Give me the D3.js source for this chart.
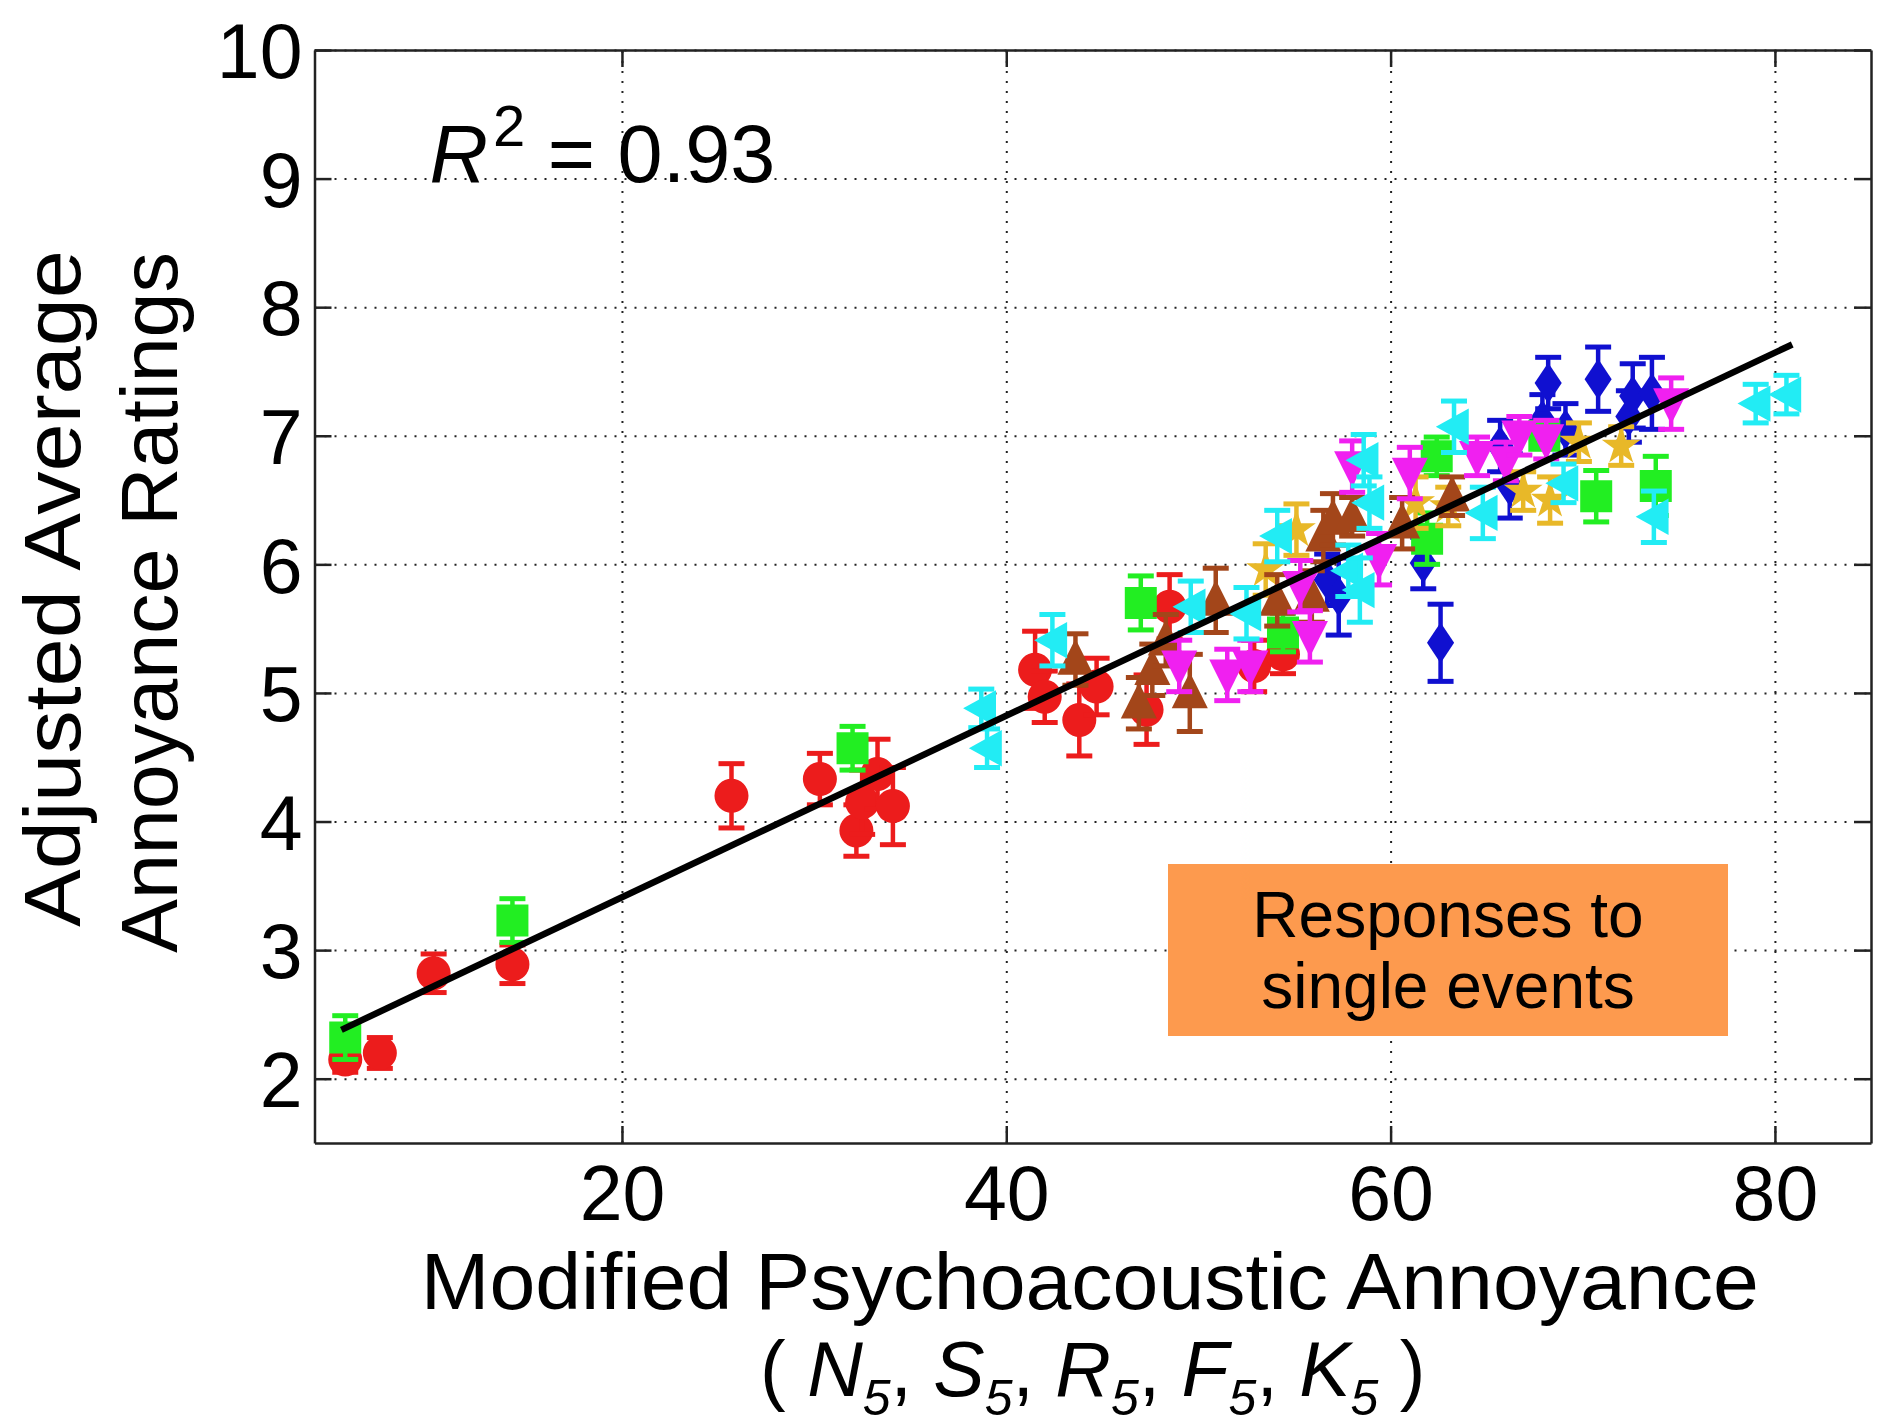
<!DOCTYPE html>
<html>
<head>
<meta charset="utf-8">
<script src="https://cdn.jsdelivr.net/npm/d3@7"></script>
<style>
	body { margin: 0; background: #fff; }
	svg text { font-family: "Liberation Sans", Arial, sans-serif; fill: #000; }
</style>
</head>
<body>
<script>
(function(){
	// Axis ranges and ticks
	let xDomain = [4, 85],
		yDomain = [1.5, 10],
		xTicks = [20, 40, 60, 80],
		yTicks = [2, 3, 4, 5, 6, 7, 8, 9, 10];

	// Points as [x, y, error half-length], one array per marker group
	let redCircles = [
		[5.6, 2.15, 0.1], [7.4, 2.2, 0.12], [10.2, 2.82, 0.15], [14.3, 2.89, 0.15],
		[25.7, 4.2, 0.25], [30.3, 4.33, 0.2], [32.2, 3.93, 0.2], [32.5, 4.15, 0.25],
		[33.3, 4.37, 0.27], [34.1, 4.12, 0.3], [41.5, 5.18, 0.3], [42.0, 4.97, 0.2],
		[43.8, 4.79, 0.28], [44.7, 5.05, 0.22], [47.3, 4.87, 0.27], [48.5, 5.67, 0.25],
		[52.9, 5.21, 0.2], [54.4, 5.3, 0.15]
	];
	let blueDiamonds = [
		[56.7, 5.88, 0.2], [57.3, 5.75, 0.3], [61.7, 6.01, 0.2], [62.6, 5.39, 0.3],
		[65.7, 6.92, 0.2], [66.2, 6.61, 0.25], [67.9, 7.12, 0.2], [68.2, 7.41, 0.2],
		[69.1, 7.05, 0.2], [70.8, 7.44, 0.25], [72.4, 7.15, 0.2], [72.6, 7.31, 0.25],
		[73.6, 7.33, 0.28]
	];
	let greenSquares = [
		[5.6, 2.32, 0.17], [14.3, 3.23, 0.17], [32.0, 4.57, 0.17], [47.0, 5.7, 0.21],
		[54.4, 5.47, 0.15], [61.9, 6.2, 0.2], [62.4, 6.84, 0.15], [68.0, 7.0, 0.1],
		[70.7, 6.53, 0.2], [73.8, 6.61, 0.23]
	];
	let goldStars = [
		[53.5, 5.96, 0.2], [55.1, 6.27, 0.2], [61.3, 6.48, 0.2], [63.0, 6.45, 0.15],
		[66.9, 6.57, 0.15], [68.3, 6.5, 0.18], [69.8, 6.95, 0.15], [72.0, 6.92, 0.15]
	];
	let brownTriangles = [
		[43.6, 5.26, 0.2], [46.9, 4.92, 0.2], [47.6, 5.18, 0.2], [48.3, 5.41, 0.2],
		[49.55, 5.0, 0.3], [50.9, 5.72, 0.25], [54.1, 5.72, 0.2], [55.9, 5.75, 0.2],
		[56.5, 6.22, 0.2], [57.0, 6.35, 0.2], [58.0, 6.37, 0.15], [60.6, 6.32, 0.2],
		[63.2, 6.53, 0.15]
	];
	let magentaTriangles = [
		[49.0, 5.21, 0.2], [51.5, 5.14, 0.2], [52.7, 5.21, 0.2], [55.3, 5.83, 0.2],
		[55.8, 5.44, 0.2], [58.0, 6.76, 0.2], [59.4, 6.04, 0.2], [61.0, 6.71, 0.2],
		[64.5, 6.84, 0.15], [66.0, 6.8, 0.15], [66.7, 7.0, 0.15], [68.1, 6.97, 0.15],
		[74.6, 7.25, 0.2]
	];
	let cyanTriangles = [
		[38.7, 4.88, 0.15], [39.0, 4.57, 0.15], [42.4, 5.41, 0.2], [49.6, 5.67, 0.2],
		[52.5, 5.62, 0.2], [54.1, 6.22, 0.2], [57.8, 5.95, 0.2], [58.4, 5.8, 0.25],
		[58.6, 6.81, 0.2], [58.9, 6.48, 0.2], [63.3, 7.07, 0.2], [64.8, 6.4, 0.2],
		[69.0, 6.63, 0.15], [73.7, 6.37, 0.2], [79.0, 7.25, 0.15], [80.6, 7.32, 0.15]
	];
	// Regression line end points and fit quality
	let fitLine = [[5.4, 2.38], [80.9, 7.71]];
	let rSquared = '0.93';
	let boxLines = ['Responses to', 'single events'];
	let yLabelLines = ['Adjusted Average', 'Annoyance Ratings'];
	let xLabel = 'Modified Psychoacoustic Annoyance';
	let xLabelTerms = ['N', 'S', 'R', 'F', 'K'];

	let width = 1878, height = 1427,
		margin = {top: 50, right: 7, bottom: 284, left: 314.5},
		innerW = width - margin.left - margin.right,
		innerH = height - margin.top - margin.bottom,
		tickLen = 17;

	let svg = d3.select('body').append('svg')
		.attr('width', width)
		.attr('height', height);
	svg.append('rect').attr('width', width).attr('height', height).attr('fill', '#fff');

	let x = d3.scaleLinear().domain(xDomain).range([0, innerW]);
	let y = d3.scaleLinear().domain(yDomain).range([innerH, 0]);

	let g = svg.append('g')
		.attr('transform', 'translate(' + margin.left + ',' + margin.top + ')');

	// Dotted grid
	let grid = g.append('g').attr('class', 'grid');
	grid.append('g')
		.call(d3.axisLeft(y).tickValues(yTicks).tickSize(-innerW).tickFormat(''));
	grid.append('g')
		.attr('transform', 'translate(0,' + innerH + ')')
		.call(d3.axisBottom(x).tickValues(xTicks).tickSize(-innerH).tickFormat(''));
	grid.selectAll('.domain').remove();
	grid.selectAll('line')
		.attr('stroke', '#222')
		.attr('stroke-width', 2)
		.attr('stroke-dasharray', '2,8');

	// Marker shapes
	let triUp = {draw: function(c, s){
		let r = Math.sqrt(s) / 2;
		c.moveTo(0, -1.15 * r); c.lineTo(r, 0.85 * r); c.lineTo(-r, 0.85 * r); c.closePath();
	}};
	let triDown = {draw: function(c, s){
		let r = Math.sqrt(s) / 2;
		c.moveTo(0, 1.15 * r); c.lineTo(r, -0.85 * r); c.lineTo(-r, -0.85 * r); c.closePath();
	}};
	let triLeft = {draw: function(c, s){
		let r = Math.sqrt(s) / 2;
		c.moveTo(-1.05 * r, 0); c.lineTo(0.85 * r, -1.05 * r); c.lineTo(0.85 * r, 1.05 * r); c.closePath();
	}};
	let diamond = {draw: function(c, s){
		let r = Math.sqrt(s) / 2;
		c.moveTo(0, -1.2 * r); c.lineTo(0.8 * r, 0); c.lineTo(0, 1.2 * r); c.lineTo(-0.8 * r, 0); c.closePath();
	}};

	let seriesList = [
		{points: redCircles, color: '#ec1c1c', type: d3.symbolCircle, size: 910},
		{points: blueDiamonds, color: '#1010d0', type: diamond, size: 1150},
		{points: greenSquares, color: '#22ee22', type: d3.symbolSquare, size: 1024},
		{points: goldStars, color: '#e8b828', type: d3.symbolStar, size: 470},
		{points: brownTriangles, color: '#a3461a', type: triUp, size: 1300},
		{points: magentaTriangles, color: '#f020f0', type: triDown, size: 1300},
		{points: cyanTriangles, color: '#22ecf4', type: triLeft, size: 1200}
	];

	let capHalf = 13;
	seriesList.forEach(function(series){
		let sg = g.append('g').attr('fill', series.color).attr('stroke', series.color);
		let pts = sg.selectAll('g.pt')
			.data(series.points).enter()
			.append('g')
			.attr('class', 'pt')
			.attr('transform', function(d){ return 'translate(' + x(d[0]) + ',0)'; });
		pts.append('line')
			.attr('y1', function(d){ return y(d[1] - d[2]); })
			.attr('y2', function(d){ return y(d[1] + d[2]); })
			.attr('stroke-width', 4.5);
		pts.append('line')
			.attr('x1', -capHalf).attr('x2', capHalf)
			.attr('y1', function(d){ return y(d[1] + d[2]); })
			.attr('y2', function(d){ return y(d[1] + d[2]); })
			.attr('stroke-width', 5);
		pts.append('line')
			.attr('x1', -capHalf).attr('x2', capHalf)
			.attr('y1', function(d){ return y(d[1] - d[2]); })
			.attr('y2', function(d){ return y(d[1] - d[2]); })
			.attr('stroke-width', 5);
		pts.append('path')
			.attr('transform', function(d){ return 'translate(0,' + y(d[1]) + ')'; })
			.attr('d', d3.symbol().type(series.type).size(series.size))
			.attr('stroke', 'none');
	});

	// Regression line
	g.append('path')
		.datum(fitLine)
		.attr('fill', 'none')
		.attr('stroke', '#000')
		.attr('stroke-width', 6.5)
		.attr('d', d3.line().x(function(d){ return x(d[0]); }).y(function(d){ return y(d[1]); }));

	// Axes box with inward ticks
	let axisFont = function(sel){
		sel.attr('font-size', 77).attr('font-family', '"Liberation Sans", Arial, sans-serif');
		sel.selectAll('line').attr('stroke', '#222').attr('stroke-width', 2.5);
		sel.selectAll('.domain').attr('stroke', '#222').attr('stroke-width', 2.5);
	};
	g.append('g')
		.call(d3.axisLeft(y).tickValues(yTicks).tickSize(-tickLen).tickSizeOuter(0).tickPadding(12))
		.call(axisFont)
		.selectAll('text').attr('dy', '0.36em');
	g.append('g')
		.attr('transform', 'translate(' + innerW + ',0)')
		.call(d3.axisRight(y).tickValues(yTicks).tickSize(-tickLen).tickSizeOuter(0).tickFormat(''))
		.call(axisFont);
	g.append('g')
		.call(d3.axisTop(x).tickValues(xTicks).tickSize(-tickLen).tickSizeOuter(0).tickFormat(''))
		.call(axisFont);
	g.append('g')
		.attr('transform', 'translate(0,' + innerH + ')')
		.call(d3.axisBottom(x).tickValues(xTicks).tickSize(-tickLen).tickSizeOuter(0).tickPadding(22))
		.call(axisFont);

	// R squared note
	let r2 = g.append('text')
		.attr('x', 115)
		.attr('y', 132)
		.attr('font-size', 81);
	r2.append('tspan').attr('font-style', 'italic').text('R');
	r2.append('tspan').attr('font-size', 58).attr('dy', -36).attr('dx', 5).text('2');
	r2.append('tspan').attr('dy', 36).text(' = ' + rSquared);

	// Orange note box
	let box = svg.append('g').attr('transform', 'translate(1168,864)');
	box.append('rect')
		.attr('width', 560)
		.attr('height', 172)
		.attr('fill', '#fd9a4e');
	box.selectAll('text')
		.data(boxLines).enter()
		.append('text')
		.attr('x', 280)
		.attr('y', function(d, i){ return 73 + i * 71; })
		.attr('text-anchor', 'middle')
		.attr('font-size', 64)
		.text(function(d){ return d; });

	// Y label, two lines
	let yLabelLengths = [677, 701];
	svg.selectAll('text.ylab')
		.data(yLabelLines).enter()
		.append('text')
		.attr('class', 'ylab')
		.attr('transform', function(d, i){
			return 'translate(' + (80 + i * 97) + ',' + (margin.top + innerH / 2 - 8 + i * 14) + ') rotate(-90)';
		})
		.attr('text-anchor', 'middle')
		.attr('font-size', 80)
		.attr('textLength', function(d, i){ return yLabelLengths[i]; })
		.attr('lengthAdjust', 'spacingAndGlyphs')
		.text(function(d){ return d; });

	// X label, two lines
	let cx = margin.left + innerW / 2;
	svg.append('text')
		.attr('x', cx - 3)
		.attr('y', 1309)
		.attr('text-anchor', 'middle')
		.attr('font-size', 80)
		.attr('textLength', 1338)
		.attr('lengthAdjust', 'spacingAndGlyphs')
		.text(xLabel);
	let sub = svg.append('text')
		.attr('x', cx)
		.attr('y', 1396)
		.attr('text-anchor', 'middle')
		.attr('font-size', 77);
	sub.append('tspan').text('( ');
	xLabelTerms.forEach(function(t, i){
		let last = i === xLabelTerms.length - 1;
		sub.append('tspan').attr('font-style', 'italic').text(t);
		sub.append('tspan').attr('font-size', 50).attr('font-style', 'italic').attr('dy', 19).text('5');
		sub.append('tspan').attr('dy', -19).text(last ? ' )' : ', ');
	});
})();
</script>
</body>
</html>
